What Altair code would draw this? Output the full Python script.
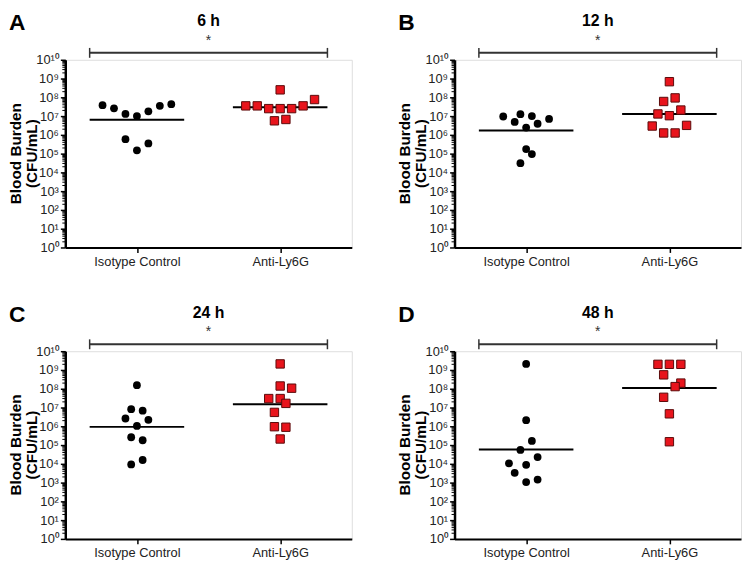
import altair as alt
import pandas as pd

FONT = "Liberation Sans"

# ---------------- data ----------------
categories = ["Isotype Control", "Anti-Ly6G"]
panel_letters = ["A", "B", "C", "D"]
panel_titles = ["6 h", "12 h", "24 h", "48 h"]
y_title_lines = ["Blood Burden", "(CFU/mL)"]
tick_values = [1, 1e1, 1e2, 1e3, 1e4, 1e5, 1e6, 1e7, 1e8, 1e9, 1e10]
tick_labels = ["10⁰", "10¹", "10²", "10³", "10⁴", "10⁵", "10⁶", "10⁷", "10⁸", "10⁹", "10¹⁰"]
significance = ["*", "*", "*", "*"]

# CFU/mL per mouse, and horizontal spread (scatter offset) of each dot
iso_6h = [3.8e7, 2.6e7, 1.3e7, 1.0e7, 1.8e7, 3.5e7, 4.3e7, 5.9e5, 1.5e5, 3.5e5]
iso_6h_spread = [-0.24, -0.16, -0.08, 0, 0.08, 0.16, 0.24, -0.08, 0, 0.08]
anti_6h = [3.5e7, 3.5e7, 2.5e7, 2.5e7, 2.5e7, 3.5e7, 7.6e7, 2.5e8, 5.6e6, 6.6e6]
anti_6h_spread = [-0.24, -0.16, -0.08, 0, 0.08, 0.16, 0.24, 0, -0.04, 0.04]

iso_12h = [9.5e6, 4.9e6, 1.26e7, 2.45e6, 1.0e7, 3.9e6, 7.1e6, 1.74e5, 9.5e4, 3.1e4]
iso_12h_spread = [-0.16, -0.08, -0.04, 0, 0.04, 0.08, 0.16, 0, 0.04, -0.04]
anti_12h = [6.8e8, 9.3e7, 6.0e7, 1.3e7, 1.05e7, 2.1e7, 2.95e6, 3.2e6, 1.26e6, 1.26e6]
anti_12h_spread = [0, 0.04, -0.04, -0.08, 0, 0.08, -0.12, 0.12, -0.04, 0.04]

iso_24h = [1.55e8, 8.1e6, 6.8e6, 2.6e6, 2.2e6, 1.05e6, 2.6e5, 1.8e5, 1.6e4, 9.3e3]
iso_24h_spread = [0, -0.04, 0.04, -0.08, 0.08, 0, -0.04, 0.04, 0.04, -0.04]
anti_24h = [2.1e9, 1.4e8, 1.07e8, 3.0e7, 3.0e7, 1.66e7, 5.5e6, 9.5e5, 8.9e5, 2.1e5]
anti_24h_spread = [0, 0, 0.08, -0.08, 0, 0.04, -0.04, -0.04, 0.04, 0]

iso_48h = [2.1e9, 2.1e6, 1.66e5, 5.5e4, 2.3e4, 1.07e4, 8.9e3, 3.3e3, 1.07e3, 1.45e3]
iso_48h_spread = [0, 0, 0.04, -0.04, 0.08, -0.12, 0, -0.08, 0, 0.08]
anti_48h = [2.0e9, 2.0e9, 2.0e9, 5.5e8, 2.0e8, 1.3e8, 3.5e7, 4.6e6, 1.5e5]
anti_48h_spread = [-0.08, 0, 0.08, -0.04, 0.08, 0.04, -0.04, 0, 0]

# geometric-mean lines
iso_mean = [6.3e6, 1.7e6, 9.3e5, 5.8e4]
anti_mean = [2.95e7, 1.3e7, 1.48e7, 1.1e8]
mean_half_width = 0.33

# ---------------- chart ----------------
W, H = 290, 190
cat_pos = [1, 2]

xscale = alt.Scale(domain=[0.5, 2.5], nice=False, zero=False)
yscale = alt.Scale(type="log", domain=[1, 1e10], nice=False)

x_label_expr = f"datum.value == 1 ? '{categories[0]}' : '{categories[1]}'"
y_label_expr = "[" + ",".join(f"'{t}'" for t in tick_labels) + "][round(log(datum.value)/LN10)]"

xaxis = alt.Axis(values=cat_pos, labelExpr=x_label_expr, title=None, grid=False,
                 tickSize=5, tickWidth=1.5, tickColor="black", domainColor="black",
                 domainWidth=2, labelFont=FONT, labelFontSize=13, labelColor="#222",
                 labelPadding=3)
yaxis = alt.Axis(values=tick_values, labelExpr=y_label_expr, title=None, grid=False,
                 tickSize=5, tickWidth=1.5, tickColor="black", domainColor="black",
                 domainWidth=2.5, labelFont=FONT, labelFontSize=13, labelColor="#222",
                 labelPadding=2)


def X(field):
    return alt.X(field, type="quantitative", scale=xscale, axis=xaxis)


def Y(field):
    return alt.Y(field, type="quantitative", scale=yscale, axis=yaxis)


minor_vals = [m * 10 ** k for k in range(10) for m in range(2, 10)]


def panel(i, iso, iso_sp, anti, anti_sp):
    df_iso = pd.DataFrame({"x": [cat_pos[0] + s for s in iso_sp], "cfu": iso})
    df_anti = pd.DataFrame({"x": [cat_pos[1] + s for s in anti_sp], "cfu": anti})
    df_mean = pd.DataFrame({"x1": [c - mean_half_width for c in cat_pos],
                            "x2": [c + mean_half_width for c in cat_pos],
                            "cfu": [iso_mean[i], anti_mean[i]]})
    df_minor = pd.DataFrame({"cfu": minor_vals})
    df_br = pd.DataFrame({"x1": [cat_pos[0] - mean_half_width],
                          "x2": [cat_pos[1] + mean_half_width]})
    df_caps = pd.DataFrame({"x": [cat_pos[0] - mean_half_width, cat_pos[1] + mean_half_width]})
    df_txt = pd.DataFrame({"x": [(cat_pos[0] + cat_pos[1]) / 2], "t": [panel_titles[i]],
                           "s": [significance[i]], "L": [panel_letters[i]],
                           "y1": [y_title_lines[0]], "y2": [y_title_lines[1]]})

    minor = alt.Chart(df_minor).mark_rule(color="black", strokeWidth=1).encode(
        y=Y("cfu"), x=alt.value(-3), x2=alt.value(0))
    circles = alt.Chart(df_iso).mark_point(shape="circle", filled=True, color="black",
                                           opacity=1, size=62).encode(x=X("x"), y=Y("cfu"))
    squares = alt.Chart(df_anti).mark_square(color="#e8141c", stroke="#5a0a0a",
                                             strokeWidth=1, opacity=1, size=72).encode(
        x=X("x"), y=Y("cfu"))
    means = alt.Chart(df_mean).mark_rule(color="black", strokeWidth=2).encode(
        x=X("x1"), x2="x2", y=Y("cfu"))
    bracket = alt.Chart(df_br).mark_rule(color="#333", strokeWidth=2).encode(
        x=X("x1"), x2="x2", y=alt.value(-7))
    caps = alt.Chart(df_caps).mark_rule(color="#333", strokeWidth=1.5).encode(
        x=X("x"), y=alt.value(-12), y2=alt.value(-2))
    star = alt.Chart(df_txt).mark_text(font=FONT, fontSize=14, color="#333",
                                       baseline="middle").encode(
        x=X("x"), y=alt.value(-19), text="s:N")
    title = alt.Chart(df_txt).mark_text(font=FONT, fontSize=16, fontWeight="bold",
                                        color="black", baseline="middle").encode(
        x=X("x"), y=alt.value(-39), text="t:N")
    letter = alt.Chart(df_txt).mark_text(font=FONT, fontSize=23, fontWeight="bold",
                                         color="black", align="left",
                                         baseline="middle").encode(
        x=alt.value(-57), y=alt.value(-37), text="L:N")
    ytitle1 = alt.Chart(df_txt).mark_text(font=FONT, fontSize=15.5, fontWeight="bold",
                                          color="black", angle=270, align="center",
                                          baseline="middle").encode(
        x=alt.value(-50), y=alt.value(H / 2), text="y1:N")
    ytitle2 = alt.Chart(df_txt).mark_text(font=FONT, fontSize=15.5, fontWeight="bold",
                                          color="black", angle=270, align="center",
                                          baseline="middle").encode(
        x=alt.value(-34), y=alt.value(H / 2), text="y2:N")

    return alt.layer(minor, means, circles, squares, bracket, caps, star, title,
                     letter, ytitle1, ytitle2).properties(width=W, height=H)


pA = panel(0, iso_6h, iso_6h_spread, anti_6h, anti_6h_spread)
pB = panel(1, iso_12h, iso_12h_spread, anti_12h, anti_12h_spread)
pC = panel(2, iso_24h, iso_24h_spread, anti_24h, anti_24h_spread)
pD = panel(3, iso_48h, iso_48h_spread, anti_48h, anti_48h_spread)

chart = alt.vconcat(
    alt.hconcat(pA, pB, spacing=45),
    alt.hconcat(pC, pD, spacing=45),
    spacing=34,
).properties(padding=0, background="white").configure_view(stroke=None).configure(font=FONT)

chart.save("out.html", embed_options={"renderer": "svg", "actions": False})
